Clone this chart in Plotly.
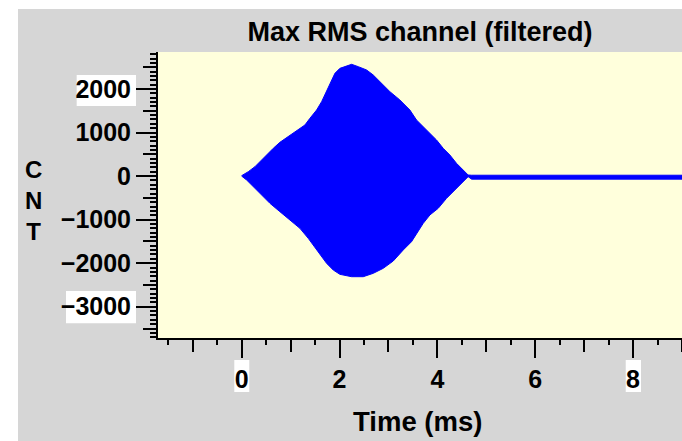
import plotly.graph_objects as go

# ---- data ----
time_upper = [0.000, 0.136, 0.272, 0.408, 0.510, 0.646, 0.782, 0.953, 1.123, 1.293,
              1.395, 1.532, 1.634, 1.736, 1.804, 1.906, 2.008, 2.144, 2.247, 2.383,
              2.553, 2.689, 2.825, 3.030, 3.234, 3.438, 3.574, 3.711, 3.847, 3.983,
              4.119, 4.255, 4.391, 4.527, 4.629]
env_upper = [10, 102, 217, 370, 500, 638, 776, 906, 1036, 1174,
             1327, 1518, 1709, 1939, 2131, 2360, 2475, 2536, 2567, 2513,
             2437, 2322, 2169, 1939, 1748, 1518, 1288, 1135, 982, 829,
             638, 485, 293, 140, 25]

time_lower = [0.000, 0.102, 0.238, 0.408, 0.578, 0.782, 1.021, 1.191, 1.361, 1.497,
              1.634, 1.736, 1.872, 2.008, 2.247, 2.485, 2.689, 2.893, 3.098, 3.302,
              3.472, 3.608, 3.711, 3.847, 4.017, 4.187, 4.357, 4.527, 4.629]
env_lower = [0, -90, -243, -434, -625, -817, -1047, -1200, -1429, -1621,
             -1850, -2003, -2157, -2256, -2310, -2310, -2233, -2118, -1950, -1697,
             -1506, -1276, -1085, -893, -740, -511, -319, -128, -13]

time_tail = [4.70, 9.00]
tail_upper = [20, 20]
tail_lower = [-70, -70]

x_range = [-1.71, 9.0]
y_range = [-3718, 2850]

title_text = "Max RMS channel (filtered)"
x_title = "Time (ms)"
y_title = "C<br>N<br>T"

# ---- styles ----
GRAY = "#d6d6d6"
YELLOW = "#ffffdc"
BLUE = "#0000ff"
FONT = "Liberation Sans, Arial, Helvetica, sans-serif"

poly_x = time_upper + time_tail + time_tail[::-1] + time_lower[::-1]
poly_y = env_upper + tail_upper + tail_lower[::-1] + env_lower[::-1]

fig = go.Figure()
fig.add_trace(go.Scatter(
    x=poly_x, y=poly_y, mode="lines", fill="toself",
    fillcolor=BLUE, line=dict(color=BLUE, width=1),
    showlegend=False, hoverinfo="skip"))
# helper trace on the overlay axes (for the finest tick level)
fig.add_trace(go.Scatter(x=[None], y=[None], xaxis="x2", yaxis="y2",
                         showlegend=False, hoverinfo="skip"))

tick_common = dict(ticks="outside", tickcolor="black", tickwidth=2,
                   showgrid=False, zeroline=False)

fig.update_layout(
    width=682, height=441,
    margin=dict(l=158, r=0, t=52, b=103, pad=0),
    paper_bgcolor=GRAY, plot_bgcolor=YELLOW,
    font=dict(family=FONT, size=25, color="black", weight="bold"),
    title=dict(text=title_text, x=0.5, xref="paper", xanchor="center",
               y=1 - 32 / 441, yref="container", yanchor="middle",
               font=dict(family=FONT, size=27, color="black", weight="bold")),
    xaxis=dict(range=x_range, tickmode="linear", tick0=0, dtick=2, ticklen=18,
               showline=True, linecolor="black", linewidth=2,
               minor=dict(tickmode="linear", tick0=0, dtick=1, ticklen=12,
                          ticks="outside", tickcolor="black", tickwidth=2, showgrid=False),
               tickfont=dict(family=FONT, size=25, color="black", weight="bold"),
               **tick_common),
    xaxis2=dict(range=x_range, overlaying="x", anchor="y", side="bottom",
                tickmode="linear", tick0=0, dtick=0.5, ticklen=6,
                showticklabels=False, showline=False, **tick_common),
    yaxis=dict(range=y_range, tickmode="linear", tick0=0, dtick=1000, ticklen=20,
               showline=True, linecolor="black", linewidth=2,
               minor=dict(tickmode="linear", tick0=0, dtick=500, ticklen=13,
                          ticks="outside", tickcolor="black", tickwidth=2, showgrid=False),
               tickfont=dict(family=FONT, size=25, color="black", weight="bold"),
               **tick_common),
    yaxis2=dict(range=y_range, overlaying="y", anchor="x", side="left",
                tickmode="linear", tick0=0, dtick=100, ticklen=7,
                showticklabels=False, showline=False, **tick_common),
    annotations=[
        dict(text=x_title, x=0.496, y=(338 - 421) / 286, xref="paper", yref="paper",
             xanchor="center", yanchor="middle", showarrow=False,
             font=dict(family=FONT, size=27.5, color="black", weight="bold")),
        dict(text=y_title, x=(33 - 158) / 524, y=(338 - 200) / 286,
             xref="paper", yref="paper", xanchor="center", yanchor="middle",
             showarrow=False,
             font=dict(family=FONT, size=24, color="black", weight="bold")),
    ],
    shapes=[
        # white frame strips (top and left)
        dict(type="rect", xref="paper", yref="paper", x0=-0.35, x1=1.05,
             y0=(338 - 9) / 286, y1=1.25, fillcolor="white", line_width=0, layer="below"),
        dict(type="rect", xref="paper", yref="paper", x0=-0.35, x1=(18 - 158) / 524,
             y0=-0.4, y1=1.25, fillcolor="white", line_width=0, layer="below"),
        # white highlight boxes behind some tick labels
        dict(type="rect", xref="paper", yref="paper", x0=-0.1552, x1=-0.042,
             y0=0.8112, y1=0.9196, fillcolor="white", line_width=0, layer="below"),
        dict(type="rect", xref="paper", yref="paper", x0=-0.1756, x1=-0.042,
             y0=0.0514, y1=0.1643, fillcolor="white", line_width=0, layer="below"),
        dict(type="rect", xref="paper", yref="paper", x0=0.1456, x1=0.1742,
             y0=-0.1888, y1=-0.0769, fillcolor="white", line_width=0, layer="below"),
        dict(type="rect", xref="paper", yref="paper", x0=0.8926, x1=0.9218,
             y0=-0.1888, y1=-0.0769, fillcolor="white", line_width=0, layer="below"),
    ],
)

fig.write_html(
    "out.html",
    config={"displayModeBar": False, "staticPlot": True},
    post_script="document.body.style.margin='0';document.body.style.overflow='hidden';",
)
